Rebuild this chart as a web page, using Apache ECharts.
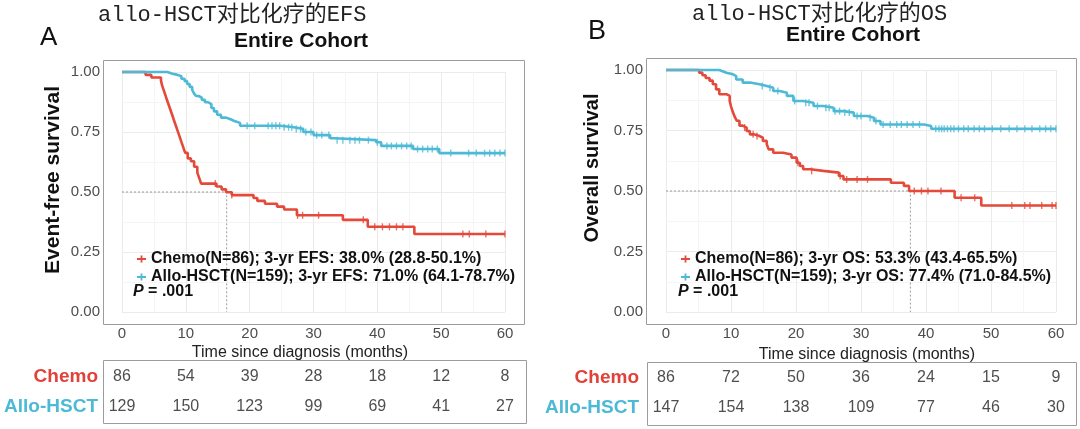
<!DOCTYPE html>
<html><head><meta charset="utf-8">
<script src="https://cdn.jsdelivr.net/npm/echarts@6/dist/echarts.min.js"></script>
<style>html,body{margin:0;padding:0;background:#fff}#c{width:1080px;height:429px}</style>
</head><body><div id="c"></div>
<script>
// ---------- data ----------
const months = [0, 10, 20, 30, 40, 50, 60];
const riskRows = ['Chemo', 'Allo-HSCT'];

// Panel A: EFS (Kaplan-Meier steps: time, survival after event)
const efsChemoT = [0, 3.7, 4.6, 6.1, 6.3, 6.6, 6.9, 7.2, 7.5, 7.8, 8.1, 8.4, 8.7, 9.0, 9.3, 9.6, 9.9, 10.3, 10.8, 11.3, 11.8, 12.1, 12.4, 14.8, 15.6, 16.3, 17.2, 20.6, 21.2, 22.4, 24.3, 25.4, 27.4, 34.6, 38.5, 45.8, 60];
const efsChemoS = [1.0, 0.988, 0.977, 0.965, 0.942, 0.919, 0.895, 0.872, 0.849, 0.826, 0.802, 0.779, 0.756, 0.733, 0.709, 0.686, 0.663, 0.640, 0.628, 0.605, 0.581, 0.558, 0.535, 0.523, 0.511, 0.499, 0.487, 0.475, 0.463, 0.451, 0.439, 0.427, 0.403, 0.384, 0.355, 0.325, 0.325];
const efsAlloT = [0, 7.1, 7.8, 8.7, 9.3, 9.8, 10.2, 10.6, 11.0, 11.3, 11.6, 12.0, 12.5, 13.0, 13.5, 14.0, 14.4, 14.9, 15.5, 16.3, 17.0, 17.6, 18.5, 24.8, 26.9, 28.4, 30.0, 32.6, 33.3, 39.8, 40.6, 45.6, 49.7, 60];
const efsAlloS = [1.0, 0.994, 0.988, 0.982, 0.972, 0.962, 0.950, 0.938, 0.925, 0.910, 0.900, 0.893, 0.884, 0.874, 0.866, 0.850, 0.836, 0.822, 0.810, 0.803, 0.796, 0.788, 0.776, 0.770, 0.763, 0.750, 0.737, 0.724, 0.716, 0.707, 0.692, 0.679, 0.662, 0.662];
const efsChemoCens = [14.6, 17.2, 27.5, 28.3, 30.8, 37.8, 39.6, 40.8, 41.9, 43.0, 44.0, 53.4, 54.4, 57.0, 60];
const efsAlloCens = [19.6, 20.8, 22.9, 23.5, 24.1, 24.7, 25.4, 26.1, 26.6, 27.3, 28.0, 28.8, 29.6, 30.5, 31.3, 32.4, 33.7, 34.6, 35.7, 36.5, 37.2, 38.6, 40.0, 41.5, 42.2, 43.0, 43.8, 44.6, 45.3, 46.3, 47.1, 47.9, 48.6, 49.4, 51.5, 54.3, 55.5, 56.8, 57.6, 58.4, 59.2, 60];
const efsMedian = 16.4;
const efsRiskChemo = [86, 54, 39, 28, 18, 12, 8];
const efsRiskAllo = [129, 150, 123, 99, 69, 41, 27];

// Panel B: OS
const osChemoT = [0, 5.1, 5.6, 6.1, 6.7, 7.2, 7.7, 8.2, 9.3, 9.8, 10.0, 10.3, 10.6, 10.9, 11.3, 11.8, 12.4, 12.9, 13.6, 14.4, 14.9, 15.5, 15.8, 16.5, 18.0, 19.3, 20.1, 20.6, 21.1, 22.2, 24.2, 26.6, 27.3, 34.6, 36.6, 37.4, 44.4, 48.5, 60];
const osChemoS = [1.0, 0.989, 0.978, 0.967, 0.956, 0.941, 0.920, 0.900, 0.893, 0.872, 0.850, 0.825, 0.805, 0.790, 0.770, 0.762, 0.748, 0.734, 0.727, 0.720, 0.707, 0.693, 0.672, 0.658, 0.651, 0.638, 0.617, 0.603, 0.590, 0.583, 0.576, 0.562, 0.548, 0.534, 0.521, 0.500, 0.472, 0.440, 0.440];
const osAlloT = [0, 8.2, 8.8, 9.3, 10.3, 10.8, 11.8, 12.9, 14.4, 15.5, 16.5, 17.5, 18.6, 19.6, 21.1, 22.7, 24.2, 25.8, 27.3, 28.9, 31.0, 32.0, 33.0, 39.7, 40.8, 60];
const osAlloS = [1.0, 0.994, 0.989, 0.982, 0.975, 0.961, 0.948, 0.941, 0.934, 0.927, 0.913, 0.906, 0.893, 0.872, 0.865, 0.851, 0.844, 0.830, 0.824, 0.810, 0.803, 0.789, 0.775, 0.769, 0.757, 0.757];
const osChemoCens = [12.1, 13.4, 14.0, 20.3, 22.4, 26.8, 27.8, 29.4, 31.0, 38.2, 39.3, 40.3, 42.3, 45.4, 47.5, 53.2, 55.2, 56.0, 57.8, 59.4, 60];
const osAlloCens = [14.8, 16.0, 17.2, 19.8, 21.5, 22.0, 23.3, 24.6, 25.1, 26.0, 26.7, 27.5, 28.2, 29.4, 30.0, 31.4, 32.3, 33.4, 34.5, 35.5, 36.2, 37.1, 38.0, 39.0, 41.5, 42.0, 42.4, 42.8, 43.3, 43.8, 44.3, 45.0, 45.8, 46.5, 47.4, 48.2, 49.0, 50.2, 51.5, 52.8, 54.0, 55.2, 56.3, 57.5, 58.4, 59.2, 60];
const osMedian = 37.6;
const osRiskChemo = [86, 72, 50, 36, 24, 15, 9];
const osRiskAllo = [147, 154, 138, 109, 77, 46, 30];

const efsNames = ['Chemo(N=86); 3-yr EFS: 38.0% (28.8-50.1%)', 'Allo-HSCT(N=159); 3-yr EFS: 71.0% (64.1-78.7%)'];
const osNames = ['Chemo(N=86); 3-yr OS: 53.3% (43.4-65.5%)', 'Allo-HSCT(N=159); 3-yr OS: 77.4% (71.0-84.5%)'];

// ---------- styling ----------
const RED = '#E4493A', CYAN = '#4CBAD6';
const FONT = '"Liberation Sans", Arial, sans-serif';
const plus = 'path://M0,4H10V6H0Z M4,1H6V9H4Z';

function pairs(T, S) { return T.map((t, i) => [t, S[i]]); }
function survAt(T, S, t) { let s = S[0]; for (let i = 0; i < T.length; i++) if (T[i] <= t) s = S[i]; return s; }

const grids = [
  { left: 122, top: 72, width: 383, height: 240 },   // A plot
  { left: 666, top: 70, width: 390, height: 242 },   // B plot
  { left: 122, top: 362, width: 383, height: 60 },   // A table
  { left: 666, top: 363, width: 390, height: 60 }    // B table
];

function plotX(g) {
  return { gridIndex: g, type: 'value', min: 0, max: 60, interval: 10,
    axisLine: { show: false }, axisTick: { show: false },
    axisLabel: { margin: 14, fontSize: 15, color: '#4d4d4d', fontFamily: FONT },
    splitLine: { show: true, lineStyle: { color: '#ebebeb', width: 1 } },
    minorTick: { show: false, splitNumber: 2 },
    minorSplitLine: { show: true, lineStyle: { color: '#f5f5f5', width: 1 } } };
}
function plotY(g, m) {
  return { gridIndex: g, type: 'value', min: 0, max: 1, interval: 0.25,
    axisLine: { show: false }, axisTick: { show: false },
    axisLabel: { margin: m, fontSize: 15, color: '#4d4d4d', fontFamily: FONT, formatter: v => v.toFixed(2) },
    splitLine: { show: true, lineStyle: { color: '#ebebeb', width: 1 } },
    minorTick: { show: false, splitNumber: 2 },
    minorSplitLine: { show: true, lineStyle: { color: '#f5f5f5', width: 1 } } };
}
function tableX(g) { return { gridIndex: g, type: 'value', min: 0, max: 60, show: false }; }
function tableY(g, m) {
  return { gridIndex: g, type: 'category', data: riskRows, inverse: true,
    axisLine: { show: false }, axisTick: { show: false }, splitLine: { show: false },
    axisLabel: { margin: m, formatter: (v, i) => '{r' + i + '|' + v + '}',
      rich: { r0: { color: '#E2413A', fontSize: 19, fontWeight: 'bold', fontFamily: FONT },
              r1: { color: CYAN, fontSize: 19, fontWeight: 'bold', fontFamily: FONT } } } };
}

function kmSeries(ax, name, T, S, cens, color) {
  return [
    { type: 'line', name: name, xAxisIndex: ax, yAxisIndex: ax, step: 'end', data: pairs(T, S),
      symbol: 'none', clip: false, color: color, lineStyle: { color: color, width: 2.6 }, z: 5, silent: true },
    { type: 'scatter', xAxisIndex: ax, yAxisIndex: ax, data: cens.map(t => [t, survAt(T, S, t)]),
      symbol: 'rect', symbolSize: [1.4, 7], clip: false, itemStyle: { color: color }, z: 6, silent: true }
  ];
}
function medianSeries(ax, med) {
  return { type: 'line', xAxisIndex: ax, yAxisIndex: ax, data: [[0, 0.5], [med, 0.5], [med, 0]],
    symbol: 'none', lineStyle: { color: '#9a9a9a', width: 1, type: [2, 2] }, z: 3, silent: true };
}
function riskSeries(ax, chemo, allo) {
  const data = [];
  months.forEach((m, i) => { data.push([m, 0, chemo[i]]); data.push([m, 1, allo[i]]); });
  return { type: 'scatter', xAxisIndex: ax, yAxisIndex: ax, data: data, symbolSize: 2,
    itemStyle: { color: 'rgba(255,255,255,0)' }, silent: true,
    label: { show: true, position: 'inside', formatter: p => String(p.value[2]),
      fontSize: 16, color: '#222', fontFamily: FONT } };
}
function legendFor(names, left) {
  return { data: names, orient: 'vertical', left: left, top: 246, itemWidth: 9, itemHeight: 9, itemGap: 2,
    selectedMode: false, icon: plus,
    textStyle: { fontSize: 16, fontWeight: 'bold', color: '#111', fontFamily: FONT } };
}
function txt(x, y, text, o) {
  return Object.assign({ type: 'text', x: x, y: y, z: 50,
    style: Object.assign({ text: text, fill: '#111', fontFamily: FONT, align: 'left', verticalAlign: 'middle' }, o || {}) });
}
function box(x, y, w, h) {
  return { type: 'rect', z: 40, shape: { x: x, y: y, width: w, height: h },
    style: { fill: 'none', stroke: '#9c9c9c', lineWidth: 1 } };
}
function pText(x, y) {
  return { type: 'text', x: x, y: y, z: 50, style: { text: '{i|P}{n| = .001}', verticalAlign: 'middle',
    rich: { i: { fontSize: 16, fontWeight: 'bold', fontStyle: 'italic', fontFamily: FONT, fill: '#111' },
            n: { fontSize: 16, fontWeight: 'bold', fontFamily: FONT, fill: '#111' } } } };
}

const option = {
  animation: false,
  textStyle: { fontFamily: FONT },
  grid: grids,
  xAxis: [plotX(0), plotX(1), tableX(2), tableX(3)],
  yAxis: [plotY(0, 22), plotY(1, 23), tableY(2, 24), tableY(3, 27)],
  legend: [legendFor(efsNames, 132), legendFor(osNames, 676)],
  series: [
    medianSeries(0, efsMedian),
    ...kmSeries(0, efsNames[0], efsChemoT, efsChemoS, efsChemoCens, RED),
    ...kmSeries(0, efsNames[1], efsAlloT, efsAlloS, efsAlloCens, CYAN),
    medianSeries(1, osMedian),
    ...kmSeries(1, osNames[0], osChemoT, osChemoS, osChemoCens, RED),
    ...kmSeries(1, osNames[1], osAlloT, osAlloS, osAlloCens, CYAN),
    riskSeries(2, efsRiskChemo, efsRiskAllo),
    riskSeries(3, osRiskChemo, osRiskAllo)
  ],
  graphic: [
    box(103.5, 60.5, 421, 264), box(646.5, 58.5, 430, 266),
    box(103.5, 360.5, 423, 63), box(647.5, 362.5, 429, 63),
    txt(40, 38, 'A', { fontSize: 26 }),
    txt(588, 32, 'B', { fontSize: 27 }),
    txt(98, 15, 'allo-HSCT对比化疗的EFS', { fontSize: 22, fontFamily: '"Liberation Mono", "Noto Sans CJK SC", monospace', fill: '#222' }),
    txt(692, 14, 'allo-HSCT对比化疗的OS', { fontSize: 22, fontFamily: '"Liberation Mono", "Noto Sans CJK SC", monospace', fill: '#222' }),
    txt(301, 41, 'Entire Cohort', { fontSize: 21, fontWeight: 'bold', align: 'center' }),
    txt(853, 35, 'Entire Cohort', { fontSize: 21, fontWeight: 'bold', align: 'center' }),
    Object.assign(txt(53, 180, 'Event-free survival', { fontSize: 21, fontWeight: 'bold', align: 'center' }), { rotation: Math.PI / 2 }),
    Object.assign(txt(592, 168, 'Overall survival', { fontSize: 20, fontWeight: 'bold', align: 'center' }), { rotation: Math.PI / 2 }),
    txt(300, 353, 'Time since diagnosis (months)', { fontSize: 16, align: 'center', fill: '#222' }),
    txt(867, 355, 'Time since diagnosis (months)', { fontSize: 16, align: 'center', fill: '#222' }),
    pText(133, 292), pText(678, 292)
  ]
};
const chart = echarts.init(document.getElementById('c'), null, { renderer: 'canvas' });
chart.setOption(option);
</script></body></html>
